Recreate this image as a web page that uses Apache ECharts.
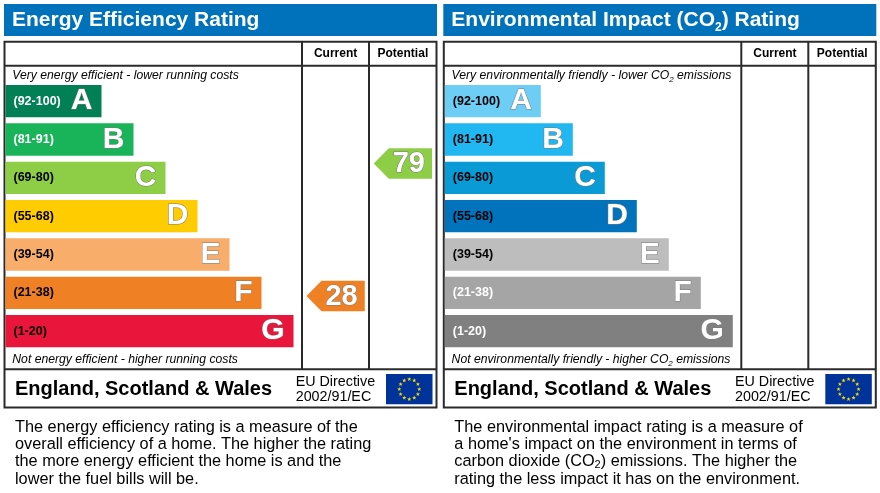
<!DOCTYPE html>
<html><head><meta charset="utf-8">
<script src="https://cdn.jsdelivr.net/npm/echarts@6/dist/echarts.min.js"></script>
<style>html,body{margin:0;padding:0;background:#fff}#c{width:880px;height:493px}</style>
</head><body><div id="c"></div>
<script>
// ---- data ----
const bands = ['A','B','C','D','E','F','G'];
const bandRanges = ['(92-100)','(81-91)','(69-80)','(55-68)','(39-54)','(21-38)','(1-20)'];
const bandLow = [92,81,69,55,39,21,1];
const bandHigh = [100,91,80,68,54,38,20];
const bandLengths = [3,4,5,6,7,8,9];
const columns = ['Current','Potential'];
const energyRatings = [28, 79];        // current, potential
const environmentRatings = [null, null];

// ---- styles ----
const FONT = '"Liberation Sans", Arial, sans-serif';
const energyColors = ['#008054','#19b459','#8dce46','#ffcc00','#f8ad6b','#ef8023','#e9153b'];
const envColors = ['#6dcdf5','#21b7f0','#0a9ad6','#0073bd','#bdbdbd','#a5a5a5','#808080'];
const energyRangeText = ['#fff','#fff','#000','#000','#000','#000','#000'];
const envRangeText = ['#000','#000','#000','#000','#000','#fff','#fff'];
const TITLE_BLUE = '#0072bc';
const LINE = '#2b2b2b';

function bandIndex(v){
  for (let i=0;i<bands.length;i++) if (v>=bandLow[i] && v<=bandHigh[i]) return i;
  return -1;
}

function arrowRender(colors){
  return function(params, api){
    const col = api.value(0), v = api.value(1);
    const bi = bandIndex(v);
    const c = api.coord([col, bi]);
    const sz = api.size([1, 1]);
    const frac = (v - bandLow[bi] + 0.5) / (bandHigh[bi] - bandLow[bi] + 1);
    const cy = c[1] + (0.5 - frac) * sz[1];
    const w = sz[0] - 9, h = 30.6, tip = 15;
    const x0 = c[0] - w/2;
    return {type:'group', children:[
      {type:'polygon', shape:{points:[[x0,cy],[x0+tip,cy-h/2],[x0+w,cy-h/2],[x0+w,cy+h/2],[x0+tip,cy+h/2]]}, style:{fill:colors[bi]}},
      {type:'text', style:{text:String(v), x:x0+w-7, y:cy+1, align:'right', verticalAlign:'middle',
        fill:'#fff', stroke:'#7a7a7a', lineWidth:1, fontSize:29, fontWeight:'bold', fontFamily:FONT}}
    ]};
  };
}

function barSeries(gi, colors, rangeColors){
  return [
    {type:'bar', xAxisIndex:gi, yAxisIndex:gi, data:bandLengths, barWidth:32.3, silent:true,
     itemStyle:{color:p=>colors[p.dataIndex]},
     label:{show:true, position:'insideRight', distance:9, formatter:p=>bands[p.dataIndex],
       color:'#fff', fontSize:30, fontWeight:'bold', fontFamily:FONT, textBorderColor:'#7a7a7a', textBorderWidth:1}},
    {type:'bar', xAxisIndex:gi, yAxisIndex:gi, barGap:'-100%', barWidth:32.3, silent:true,
     data:bandLengths.map((v,i)=>({value:v, label:{color:rangeColors[i]}})),
     itemStyle:{color:'rgba(0,0,0,0)'},
     label:{show:true, position:'insideLeft', distance:8, formatter:p=>bandRanges[p.dataIndex],
       fontSize:12.5, fontWeight:'bold', fontFamily:FONT}}
  ];
}

function arrowSeries(gi, ratings, colors){
  const data = [];
  ratings.forEach((r,i)=>{ if (r!=null) data.push([i, r]); });
  return {type:'custom', xAxisIndex:gi, yAxisIndex:gi, data, renderItem:arrowRender(colors), silent:true, clip:false};
}

// ---- layout ----
const GT = 82, GH = 268.3;
function grids(dx){
  return [
    {left:5.5+dx, top:GT, width:296, height:GH, outerBoundsMode:'none'},
    {left:302+dx, top:GT, width:134.5, height:GH, outerBoundsMode:'none'}
  ];
}
function xAxes(g0){
  return [
    {gridIndex:g0, type:'value', min:0, max:9.25, show:false},
    {gridIndex:g0+1, type:'category', data:columns, position:'top',
     axisLine:{show:false}, axisTick:{show:false}, splitLine:{show:false},
     axisLabel:{margin:28, verticalAlign:'middle', fontSize:12, fontWeight:'bold', color:'#000', fontFamily:FONT}}
  ];
}
function yAxes(g0){
  return [
    {gridIndex:g0, type:'category', data:bands, inverse:true, show:false},
    {gridIndex:g0+1, type:'category', data:bands, inverse:true, show:false}
  ];
}

function starPts(cx, cy, R, r){
  const p = [];
  for (let k=0;k<10;k++){
    const a = -Math.PI/2 + k*Math.PI/5;
    const rr = k%2===0 ? R : r;
    p.push([cx + rr*Math.cos(a), cy + rr*Math.sin(a)]);
  }
  return p;
}
function flag(x, y, w, h){
  const els = [{type:'rect', shape:{x, y, width:w, height:h}, style:{fill:'#003399'}}];
  const cx = x + w/2, cy = y + h/2, rad = h*0.33;
  for (let k=0;k<12;k++){
    const a = k*Math.PI/6;
    els.push({type:'polygon', shape:{points:starPts(cx + rad*Math.sin(a), cy - rad*Math.cos(a), 2.2, 0.9)}, style:{fill:'#ffdd00'}});
  }
  return els;
}

function panel(dx, o){
  const L = 4.5+dx, R = 436.5+dx;
  const els = [
    {type:'rect', shape:{x:4+dx, y:4, width:433, height:32}, style:{fill:TITLE_BLUE}},
    {type:'text', x:0, y:0, style:Object.assign({x:12+dx, y:20, verticalAlign:'middle', fill:'#fff'}, o.title)},
    {type:'rect', shape:{x:L, y:41.7, width:R-L, height:365.8}, style:{fill:'none', stroke:LINE, lineWidth:2}},
    {type:'line', shape:{x1:L, y1:65.7, x2:R, y2:65.7}, style:{stroke:LINE, lineWidth:2}},
    {type:'line', shape:{x1:L, y1:369.3, x2:R, y2:369.3}, style:{stroke:LINE, lineWidth:2}},
    {type:'line', shape:{x1:302+dx, y1:41.7, x2:302+dx, y2:369.3}, style:{stroke:LINE, lineWidth:2}},
    {type:'line', shape:{x1:369+dx, y1:41.7, x2:369+dx, y2:369.3}, style:{stroke:LINE, lineWidth:2}},
    {type:'text', style:Object.assign({x:12.3+dx, y:75.8, verticalAlign:'middle', fill:'#000'}, o.top)},
    {type:'text', style:Object.assign({x:12.3+dx, y:359.3, verticalAlign:'middle', fill:'#000'}, o.bottom)},
    {type:'text', style:{text:'England, Scotland & Wales', x:15+dx, y:389, verticalAlign:'middle', fill:'#000', fontSize:20, fontWeight:'bold', fontFamily:FONT}},
    {type:'text', style:{text:'EU Directive', x:295.7+dx, y:382, verticalAlign:'middle', fill:'#000', fontSize:14.3, fontFamily:FONT}},
    {type:'text', style:{text:'2002/91/EC', x:295.7+dx, y:397, verticalAlign:'middle', fill:'#000', fontSize:14.3, fontFamily:FONT}},
    {type:'text', style:Object.assign({x:15+dx, y:418.5, verticalAlign:'top', fill:'#000'}, o.desc)}
  ];
  return els.concat(flag(386+dx, 374, 46.5, 30.3));
}

const tTitle = {fontSize:21, fontWeight:'bold', fontFamily:FONT, fill:'#fff', lineHeight:28};
const tTitleSub = {fontSize:12, fontWeight:'bold', fontFamily:FONT, fill:'#fff', lineHeight:14, verticalAlign:'bottom'};
const tIt = {fontSize:12.2, fontStyle:'italic', fontFamily:FONT, fill:'#000', lineHeight:16};
const tItSub = {fontSize:8, fontStyle:'italic', fontFamily:FONT, fill:'#000', lineHeight:10, verticalAlign:'bottom'};
const tD = {fontSize:16.3, fontFamily:FONT, fill:'#000', lineHeight:17.4};
const tDSub = {fontSize:11, fontFamily:FONT, fill:'#000', lineHeight:9, verticalAlign:'bottom'};

const leftText = {
  title:{text:'Energy Efficiency Rating', fontSize:21, fontWeight:'bold', fontFamily:FONT},
  top:{text:'Very energy efficient - lower running costs', fontSize:12.2, fontStyle:'italic', fontFamily:FONT},
  bottom:{text:'Not energy efficient - higher running costs', fontSize:12.2, fontStyle:'italic', fontFamily:FONT},
  desc:{text:'The energy efficiency rating is a measure of the\noverall efficiency of a home. The higher the rating\nthe more energy efficient the home is and the\nlower the fuel bills will be.', fontSize:16.3, lineHeight:17.4, fontFamily:FONT}
};
const rightText = {
  title:{text:'{t|Environmental Impact (CO}{s|2}{t|) Rating}', rich:{t:tTitle, s:tTitleSub}},
  top:{text:'{t|Very environmentally friendly - lower CO}{s|2}{t| emissions}', rich:{t:tIt, s:tItSub}},
  bottom:{text:'{t|Not environmentally friendly - higher CO}{s|2}{t| emissions}', rich:{t:tIt, s:tItSub}},
  desc:{text:'{t|The environmental impact rating is a measure of}\n{t|a home\'s impact on the environment in terms of}\n{t|carbon dioxide (CO}{s|2}{t|) emissions. The higher the}\n{t|rating the less impact it has on the environment.}', rich:{t:tD, s:tDSub}}
};

const DX = 439.3;
const option = {
  animation:false,
  backgroundColor:'#fff',
  grid: grids(0).concat(grids(DX)),
  xAxis: xAxes(0).concat(xAxes(2)),
  yAxis: yAxes(0).concat(yAxes(2)),
  series: [].concat(
    barSeries(0, energyColors, energyRangeText),
    [arrowSeries(1, energyRatings, energyColors)],
    barSeries(2, envColors, envRangeText),
    [arrowSeries(3, environmentRatings, envColors)]
  ),
  graphic: panel(0, leftText).concat(panel(DX, rightText))
};
const chart = echarts.init(document.getElementById('c'));
chart.setOption(option);
</script></body></html>
